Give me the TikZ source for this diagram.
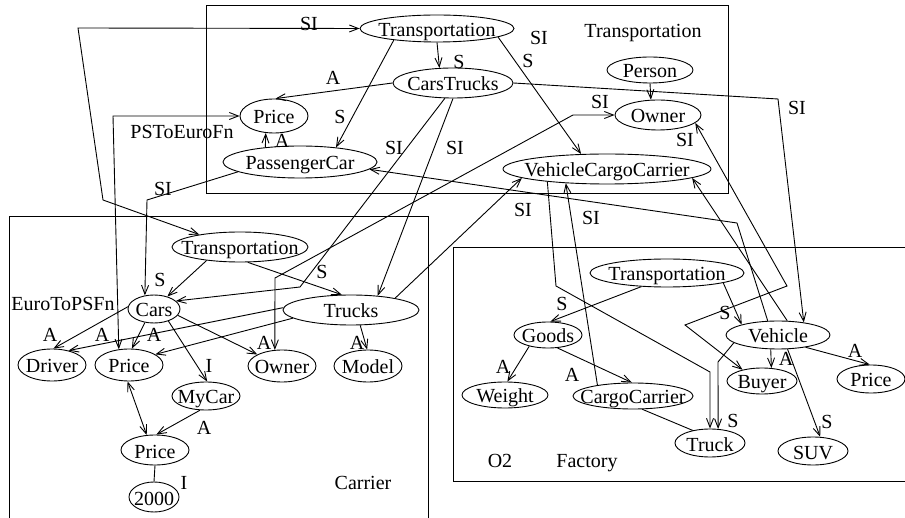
\documentclass[tikz,border=0pt]{standalone}
\usepackage{fontspec}
\setmainfont{Liberation Serif}
\usetikzlibrary{shapes.geometric,arrows.meta}
\newcommand{\ctext}[1]{\smash{\raisebox{-0.4em}{\makebox[0pt]{#1}}}}
\newcommand{\ltext}[1]{\smash{\raisebox{-0.33em}{\makebox[0pt]{#1}}}}
\begin{document}
\begin{tikzpicture}[x=1pt,y=-1pt,line width=0.9pt,font=\fontsize{20}{24}\selectfont,
  el/.style 2 args={ellipse,draw,inner sep=0pt,minimum width=#1,minimum height=#2},
  lbl/.style={inner sep=0pt},
  arr/.style={-{Straight Barb[length=9pt,width=7pt]}},
  darr/.style={{Straight Barb[length=9pt,width=7pt]}-{Straight Barb[length=9pt,width=7pt]}}]
\useasboundingbox (0,0) rectangle (905,518);
\clip (0,0) rectangle (905,518);
% boxes
\draw (206,5) rectangle (728,193);
\draw (428,530) -- (428,216) -- (9,216) -- (9,530);
\draw (910,247) -- (453,247) -- (453,481) -- (910,481);
% top box nodes
\node[el={154pt}{27pt}] (t1) at (437,28.5) {\ctext{Transportation}};
\node[el={120pt}{30pt}] (ct) at (453,83) {\ctext{CarsTrucks}};
\node[el={68pt}{34pt}] (pt) at (274,116) {\ctext{Price}};
\node[el={154pt}{32pt}] (pc) at (300,162) {\ctext{PassengerCar}};
\node[el={86pt}{26pt}] (pe) at (650,70) {\ctext{Person}};
\node[el={86pt}{30pt}] (ot) at (658,115) {\ctext{Owner}};
\node[el={208pt}{30pt}] (vcc) at (607,169) {\ctext{VehicleCargoCarrier}};
% left box nodes
\node[el={136pt}{30pt}] (tl) at (240,247) {\ctext{Transportation}};
\node[el={52pt}{28pt}] (cars) at (154,309) {\ctext{Cars}};
\node[el={136pt}{30pt}] (trucks) at (351,310) {\ctext{Trucks}};
\node[el={68pt}{32pt}] (driver) at (52,365) {\ctext{Driver}};
\node[el={68pt}{32pt}] (pl1) at (129,365) {\ctext{Price}};
\node[el={68pt}{32pt}] (ol) at (282,366) {\ctext{Owner}};
\node[el={68pt}{32pt}] (model) at (368,366) {\ctext{Model}};
\node[el={68pt}{28pt}] (mycar) at (206,396) {\ctext{MyCar}};
\node[el={68pt}{30pt}] (pl2) at (155,450) {\ctext{Price}};
\node[el={50pt}{30pt}] (n2000) at (154,497) {\ctext{2000}};
% right box nodes
\node[el={154pt}{28pt}] (tr) at (667,273) {\ctext{Transportation}};
\node[el={68pt}{26pt}] (goods) at (548,335) {\ctext{Goods}};
\node[el={104pt}{28pt}] (veh) at (778,335) {\ctext{Vehicle}};
\node[el={86pt}{26pt}] (weight) at (505,395) {\ctext{Weight}};
\node[el={120pt}{26pt}] (cc) at (633,396) {\ctext{CargoCarrier}};
\node[el={70pt}{26pt}] (buyer) at (762,381) {\ctext{Buyer}};
\node[el={68pt}{28pt}] (pr) at (871,379) {\ctext{Price}};
\node[el={70pt}{28pt}] (truck) at (710,443) {\ctext{Truck}};
\node[el={70pt}{28pt}] (suv) at (813,451) {\ctext{SUV}};
% bend points
\coordinate (k1) at (78,28);
\coordinate (k2) at (103,200);
\coordinate (k3) at (113,116);
\coordinate (k4) at (147,200);
\coordinate (k5) at (300,287);
\coordinate (k6) at (573,115);
\coordinate (k7) at (275,278);
\coordinate (k8) at (718,362);
\coordinate (k9) at (556,286);
\coordinate (k10) at (710,372);
\coordinate (k11) at (737,223);
\coordinate (k12) at (787,286);
\coordinate (k13) at (685,325);
\coordinate (k14) at (778,99);
% top connectors
\draw[arr] (t1.-90) -- (ct.132);
\draw[arr] (t1.-165) -- (pc.22);
\draw[arr] (ct.180) -- (pt.85);
\draw[arr] (pc.157) -- (pt.-116);
\draw[arr] (pe.-90) -- (ot.115);
\draw[arr] (t1.-8) -- (vcc.150);
\draw[darr] (t1.180) -- (k1) -- (k2) -- (tl.163);
\draw[darr] (pt.180) -- (k3) -- (pl1.123);
\draw[arr] (pc.-171) -- (k4) -- (cars.124);
\draw[arr] (ct.-118) -- (k5) -- (cars.20);
\draw[arr] (ct.-90) -- (trucks.28);
\draw[darr] (ot.180) -- (k6) -- (k7) -- (ol.114);
\draw[arr] (trucks.15) -- (vcc.-174);
% left connectors
\draw[arr] (tl.-158) -- (cars.43);
\draw[arr] (tl.-63) -- (trucks.121);
\draw[arr] (cars.175) -- (driver.85);
\draw[arr] (trucks.178) -- (driver.41);
\draw[arr] (cars.-124) -- (pl1.80);
\draw[arr] (trucks.-172) -- (pl1.22);
\draw[arr] (cars.-40) -- (mycar.85);
\draw[arr] (cars.-15) -- (ol.155);
\draw[arr] (trucks.-59) -- (model.93);
\draw[darr] (pl1.-95) -- (pl2.119);
\draw[arr] (mycar.-113) -- (pl2.85);
\draw (pl2.-90) -- (n2000.90);
% right connectors
\draw[arr] (tr.-152) -- (goods.80);
\draw[arr] (tr.-10) -- (veh.164);
\draw[arr] (goods.-149) -- (weight.80);
\draw[arr] (goods.-54) -- (cc.95);
\draw[arr] (veh.-117) -- (buyer.54);
\draw[arr] (veh.-24) -- (pr.95);
\draw[arr] (veh.-56) -- (suv.63);
\draw[arr] (veh.-170) -- (k8) -- (truck.60);
\draw[arr] (vcc.-168) -- (k9) -- (k10) -- (truck.90);
\draw[arr] (cc.163) -- (vcc.-161);
\draw (cc.-55) -- (truck.144);
\draw[arr] (veh.126) -- (k11) -- (pc.-6);
\draw[arr] (veh.57) -- (vcc.-6);
\draw[darr] (ot.-12) -- (k12) -- (k13) -- (buyer.150);
\draw[arr] (ct.0) -- (k14) -- (veh.26);
% labels
\node[lbl] (l1) at (309,24) {\ltext{SI}};
\node[lbl] (l2) at (459,62) {\ltext{S}};
\node[lbl] (l3) at (539,38) {\ltext{SI}};
\node[lbl] (l4) at (528,61) {\ltext{S}};
\node[lbl] (l5) at (333,78) {\ltext{A}};
\node[lbl] (l6) at (340,117) {\ltext{S}};
\node[lbl] (l7) at (282,141) {\ltext{A}};
\node[lbl] (l8) at (394,148) {\ltext{SI}};
\node[lbl] (l9) at (455,148) {\ltext{SI}};
\node[lbl] (l10) at (643,31) {\ltext{Transportation}};
\node[lbl] (l11) at (600,102) {\ltext{SI}};
\node[lbl] (l12) at (685,140) {\ltext{SI}};
\node[lbl] (l13) at (797,108) {\ltext{SI}};
\node[lbl] (l14) at (523,210) {\ltext{SI}};
\node[lbl] (l15) at (591,218) {\ltext{SI}};
\node[lbl] (l16) at (182,132) {\ltext{PSToEuroFn}};
\node[lbl] (l17) at (163,189) {\ltext{SI}};
\node[lbl] (l18) at (63,304) {\ltext{EuroToPSFn}};
\node[lbl] (l19) at (160,280) {\ltext{S}};
\node[lbl] (l20) at (322,272) {\ltext{S}};
\node[lbl] (l21) at (50,335) {\ltext{A}};
\node[lbl] (l22) at (102,335) {\ltext{A}};
\node[lbl] (l23) at (154,335) {\ltext{A}};
\node[lbl] (l24) at (264,343) {\ltext{A}};
\node[lbl] (l25) at (357,343) {\ltext{A}};
\node[lbl] (l26) at (209,366) {\ltext{I}};
\node[lbl] (l27) at (204,428) {\ltext{A}};
\node[lbl] (l28) at (184,483) {\ltext{I}};
\node[lbl] (l29) at (363,483) {\ltext{Carrier}};
\node[lbl] (l30) at (562,304) {\ltext{S}};
\node[lbl] (l31) at (725,313) {\ltext{S}};
\node[lbl] (l32) at (503,367) {\ltext{A}};
\node[lbl] (l33) at (572,375) {\ltext{A}};
\node[lbl] (l34) at (786,359) {\ltext{A}};
\node[lbl] (l35) at (855,351) {\ltext{A}};
\node[lbl] (l36) at (733,421) {\ltext{S}};
\node[lbl] (l37) at (827,422) {\ltext{S}};
\node[lbl] (l38) at (500,461) {\ltext{O2}};
\node[lbl] (l39) at (587,461) {\ltext{Factory}};
\end{tikzpicture}
\end{document}
